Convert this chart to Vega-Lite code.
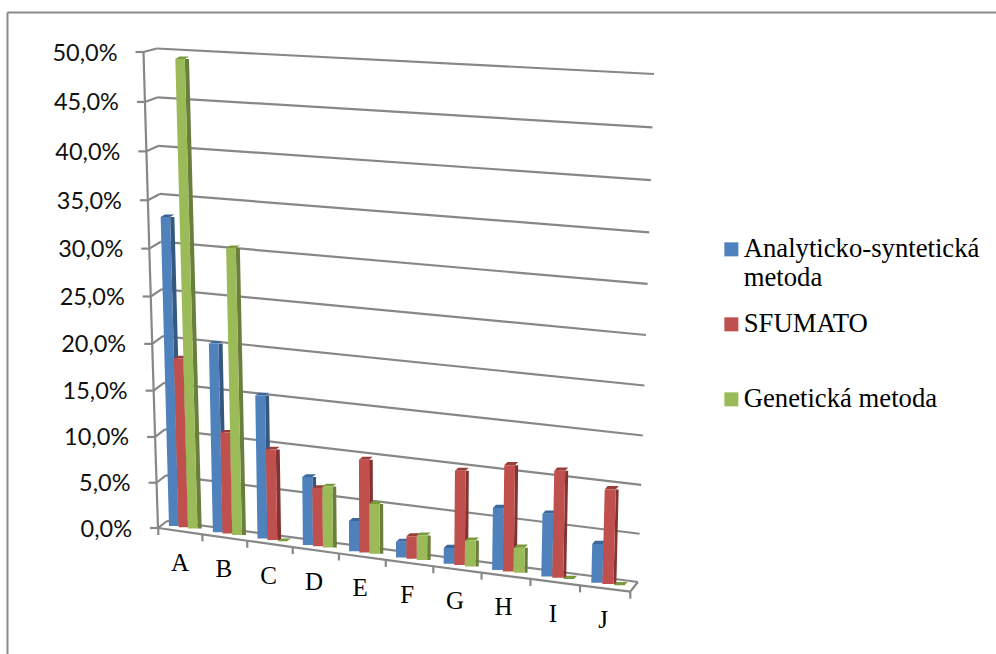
{
  "$schema": "https://vega.github.io/schema/vega-lite/v6.json",
  "width": 989,
  "height": 642,
  "padding": {"left": 7, "top": 12, "right": 0, "bottom": 0},
  "autosize": "none",
  "background": "white",
  "config": {"view": {"stroke": null}},
  "datasets": {
    "scores": [
      {"cat": "A", "series": "Analyticko-syntetická metoda", "value": 32.7},
      {"cat": "A", "series": "SFUMATO", "value": 17.9},
      {"cat": "A", "series": "Genetická metoda", "value": 49.7},
      {"cat": "B", "series": "Analyticko-syntetická metoda", "value": 19.8},
      {"cat": "B", "series": "SFUMATO", "value": 10.6},
      {"cat": "B", "series": "Genetická metoda", "value": 30.1},
      {"cat": "C", "series": "Analyticko-syntetická metoda", "value": 14.9},
      {"cat": "C", "series": "SFUMATO", "value": 9.4},
      {"cat": "C", "series": "Genetická metoda", "value": 0},
      {"cat": "D", "series": "Analyticko-syntetická metoda", "value": 7.0},
      {"cat": "D", "series": "SFUMATO", "value": 6.0},
      {"cat": "D", "series": "Genetická metoda", "value": 6.3},
      {"cat": "E", "series": "Analyticko-syntetická metoda", "value": 3.1},
      {"cat": "E", "series": "SFUMATO", "value": 9.5},
      {"cat": "E", "series": "Genetická metoda", "value": 5.1},
      {"cat": "F", "series": "Analyticko-syntetická metoda", "value": 1.6},
      {"cat": "F", "series": "SFUMATO", "value": 2.3},
      {"cat": "F", "series": "Genetická metoda", "value": 2.5},
      {"cat": "G", "series": "Analyticko-syntetická metoda", "value": 1.6},
      {"cat": "G", "series": "SFUMATO", "value": 9.5},
      {"cat": "G", "series": "Genetická metoda", "value": 2.6},
      {"cat": "H", "series": "Analyticko-syntetická metoda", "value": 6.2},
      {"cat": "H", "series": "SFUMATO", "value": 10.6},
      {"cat": "H", "series": "Genetická metoda", "value": 2.5},
      {"cat": "I", "series": "Analyticko-syntetická metoda", "value": 6.2},
      {"cat": "I", "series": "SFUMATO", "value": 10.6},
      {"cat": "I", "series": "Genetická metoda", "value": 0},
      {"cat": "J", "series": "Analyticko-syntetická metoda", "value": 3.8},
      {"cat": "J", "series": "SFUMATO", "value": 9.3},
      {"cat": "J", "series": "Genetická metoda", "value": 0}
    ],
    "levels": [
      {"v": 0}, {"v": 5}, {"v": 10}, {"v": 15}, {"v": 20}, {"v": 25},
      {"v": 30}, {"v": 35}, {"v": 40}, {"v": 45}, {"v": 50}
    ],
    "slots": [
      {"i": 0}, {"i": 1}, {"i": 2}, {"i": 3}, {"i": 4}, {"i": 5},
      {"i": 6}, {"i": 7}, {"i": 8}, {"i": 9}, {"i": 10}
    ],
    "categories": [
      {"cat": "A"}, {"cat": "B"}, {"cat": "C"}, {"cat": "D"}, {"cat": "E"},
      {"cat": "F"}, {"cat": "G"}, {"cat": "H"}, {"cat": "I"}, {"cat": "J"}
    ]
  },
  "layer": [
    {
      "data": {"name": "levels"},
      "transform": [
        {"calculate": "167 - 0.206 * datum.v", "as": "wallLX"},
        {"calculate": "521 - 9.1 * datum.v - 0.007 * datum.v * datum.v", "as": "wallLY"},
        {"calculate": "638 + 0.32 * datum.v", "as": "wallRX"},
        {"calculate": "582 - 9.6 * datum.v - 0.0112 * datum.v * datum.v", "as": "wallRY"}
      ],
      "mark": {"type": "rule", "color": "#878787", "strokeWidth": 2.2},
      "encoding": {
        "x": {
          "field": "wallLX", "type": "quantitative",
          "scale": {"domain": [7, 996], "nice": false, "zero": false},
          "axis": {"orient": "top", "title": null, "labels": false, "ticks": false, "grid": false, "domain": true, "domainColor": "#8a8a8a", "domainWidth": 2}
        },
        "y": {
          "field": "wallLY", "type": "quantitative",
          "scale": {"domain": [654, 12], "nice": false, "zero": false},
          "axis": {"orient": "left", "title": null, "labels": false, "ticks": false, "grid": false, "domain": true, "domainColor": "#8a8a8a", "domainWidth": 2}
        },
        "x2": {"field": "wallRX"},
        "y2": {"field": "wallRY"}
      }
    },
    {
      "data": {"name": "levels"},
      "transform": [
        {"calculate": "158 - 0.29 * datum.v", "as": "axisX"},
        {"calculate": "528 - 9 * datum.v - 0.0104 * datum.v * datum.v", "as": "axisY"},
        {"calculate": "167 - 0.206 * datum.v", "as": "wallLX"},
        {"calculate": "521 - 9.1 * datum.v - 0.007 * datum.v * datum.v", "as": "wallLY"},
        {"calculate": "datum.axisX - 8", "as": "tickX"},
        {"calculate": "datum.axisX - 26", "as": "labelX"},
        {"calculate": "datum.axisY + 1.5", "as": "labelY"},
        {"calculate": "replace(format(datum.v, '.1f'), '.', ',') + '%'", "as": "label"}
      ],
      "layer": [
        {
          "mark": {"type": "line", "color": "#878787", "strokeWidth": 2.2},
          "encoding": {
            "x": {"field": "axisX", "type": "quantitative"},
            "y": {"field": "axisY", "type": "quantitative"},
            "order": {"field": "v"}
          }
        },
        {
          "mark": {"type": "rule", "color": "#878787", "strokeWidth": 2.2},
          "encoding": {
            "x": {"field": "axisX", "type": "quantitative"},
            "y": {"field": "axisY", "type": "quantitative"},
            "x2": {"field": "wallLX"},
            "y2": {"field": "wallLY"}
          }
        },
        {
          "mark": {"type": "rule", "color": "#878787", "strokeWidth": 2.2},
          "encoding": {
            "x": {"field": "tickX", "type": "quantitative"},
            "y": {"field": "axisY", "type": "quantitative"},
            "x2": {"field": "axisX"}
          }
        },
        {
          "mark": {"type": "text", "align": "right", "baseline": "middle", "font": "Lato", "fontSize": 23.5, "color": "#111111"},
          "encoding": {
            "x": {"field": "labelX", "type": "quantitative"},
            "y": {"field": "labelY", "type": "quantitative"},
            "text": {"field": "label"}
          }
        }
      ]
    },
    {
      "data": {"name": "slots"},
      "transform": [
        {"calculate": "158.3 + 43.8 * datum.i + 0.34 * datum.i * datum.i", "as": "floorX"},
        {"calculate": "528 + 6.37 * datum.i", "as": "floorY"},
        {"calculate": "datum.floorY + 7", "as": "tickEnd"},
        {"calculate": "datum.floorX + (datum.i == 10 ? 7.5 : 0)", "as": "cornerX"},
        {"calculate": "datum.i == 10 ? 582 : datum.floorY", "as": "cornerY"}
      ],
      "layer": [
        {
          "mark": {"type": "line", "color": "#878787", "strokeWidth": 2.2},
          "encoding": {
            "x": {"field": "floorX", "type": "quantitative"},
            "y": {"field": "floorY", "type": "quantitative"},
            "order": {"field": "i"}
          }
        },
        {
          "mark": {"type": "rule", "color": "#878787", "strokeWidth": 2.2},
          "encoding": {
            "x": {"field": "floorX", "type": "quantitative"},
            "y": {"field": "floorY", "type": "quantitative"},
            "y2": {"field": "tickEnd"}
          }
        },
        {
          "transform": [{"filter": "datum.i == 10"}],
          "mark": {"type": "rule", "color": "#878787", "strokeWidth": 2.2},
          "encoding": {
            "x": {"field": "floorX", "type": "quantitative"},
            "y": {"field": "floorY", "type": "quantitative"},
            "x2": {"field": "cornerX"},
            "y2": {"field": "cornerY"}
          }
        }
      ]
    },
    {
      "data": {"name": "categories"},
      "transform": [
        {"calculate": "indexof('ABCDEFGHIJ', datum.cat)", "as": "c"},
        {"calculate": "180 + 43.5 * datum.c + 0.39 * datum.c * datum.c", "as": "labelX"},
        {"calculate": "563 + 6.33 * datum.c", "as": "labelY"}
      ],
      "mark": {"type": "text", "align": "center", "baseline": "middle", "font": "Liberation Serif", "fontSize": 25, "color": "#000000"},
      "encoding": {
        "x": {"field": "labelX", "type": "quantitative"},
        "y": {"field": "labelY", "type": "quantitative"},
        "text": {"field": "cat"}
      }
    },
    {
      "data": {"name": "scores"},
      "transform": [
        {"calculate": "indexof('ABCDEFGHIJ', datum.cat)", "as": "c"},
        {"calculate": "indexof(['Analyticko-syntetická metoda', 'SFUMATO', 'Genetická metoda'], datum.series)", "as": "s"},
        {"calculate": "9.5 + 0.18 * datum.c", "as": "w"},
        {"calculate": "169 + 43.5 * datum.c + 0.38 * datum.c * datum.c + datum.s * datum.w", "as": "baseX"},
        {"calculate": "526 + 6.3 * datum.c + 1.3 * datum.s", "as": "baseY"},
        {"calculate": "datum.baseY - datum.value * (9.45 + 0.08 * datum.c)", "as": "topY"},
        {"calculate": "0.027 - 0.0057 * datum.c", "as": "lean"},
        {"calculate": "4.2 - 0.15 * datum.c", "as": "dx"},
        {"calculate": "2.5 + 0.1 * datum.c", "as": "dy"},
        {"calculate": "[0, 1]", "as": "end"},
        {"flatten": ["end"]},
        {"calculate": "datum.end ? datum.topY : datum.baseY", "as": "faceY"},
        {"calculate": "datum.baseX - datum.lean * (datum.baseY - datum.faceY)", "as": "faceL"},
        {"calculate": "datum.faceL + datum.w", "as": "faceR"},
        {"calculate": "datum.faceR + datum.dx", "as": "sideR"},
        {"calculate": "datum.topY - datum.end * datum.dy", "as": "capY"},
        {"calculate": "datum.baseX - datum.lean * (datum.baseY - datum.topY) + datum.end * datum.dx", "as": "capL"},
        {"calculate": "datum.capL + datum.w", "as": "capR"}
      ],
      "layer": [
        {
          "mark": {"type": "area", "orient": "horizontal"},
          "encoding": {
            "y": {"field": "faceY", "type": "quantitative"},
            "x": {"field": "faceR", "type": "quantitative", "stack": null},
            "x2": {"field": "sideR"},
            "detail": {"field": "cat"},
            "color": {
              "field": "series", "type": "nominal", "legend": null,
              "scale": {"domain": ["Analyticko-syntetická metoda", "SFUMATO", "Genetická metoda"], "range": ["#35587f", "#843230", "#6a7f3c"]}
            }
          }
        },
        {
          "mark": {"type": "area", "orient": "horizontal"},
          "encoding": {
            "y": {"field": "capY", "type": "quantitative"},
            "x": {"field": "capL", "type": "quantitative", "stack": null},
            "x2": {"field": "capR"},
            "detail": {"field": "cat"},
            "color": {
              "field": "series", "type": "nominal", "legend": null,
              "scale": {"domain": ["Analyticko-syntetická metoda", "SFUMATO", "Genetická metoda"], "range": ["#3c679a", "#9a3c39", "#7a9a3c"]}
            }
          }
        },
        {
          "mark": {"type": "area", "orient": "horizontal"},
          "encoding": {
            "y": {"field": "faceY", "type": "quantitative"},
            "x": {"field": "faceL", "type": "quantitative", "stack": null},
            "x2": {"field": "faceR"},
            "detail": {"field": "cat"},
            "color": {
              "field": "series", "type": "nominal",
              "scale": {"domain": ["Analyticko-syntetická metoda", "SFUMATO", "Genetická metoda"], "range": ["#4f81bd", "#c0504d", "#9bbb59"]},
              "legend": {
                "title": null,
                "orient": "none",
                "legendX": 711,
                "legendY": 224,
                "symbolType": "square",
                "symbolSize": 196,
                "symbolStrokeWidth": 0,
                "symbolOpacity": 1,
                "labelFont": "Liberation Serif",
                "labelFontSize": 26.7,
                "labelColor": "#000000",
                "labelLimit": 400,
                "labelOffset": -1,
                "rowPadding": 19,
                "gridAlign": "all",
                "labelExpr": "datum.label == 'Analyticko-syntetická metoda' ? ['Analyticko-syntetická', 'metoda'] : datum.label"
              }
            }
          }
        }
      ],
      "resolve": {"scale": {"color": "independent"}}
    }
  ]
}
